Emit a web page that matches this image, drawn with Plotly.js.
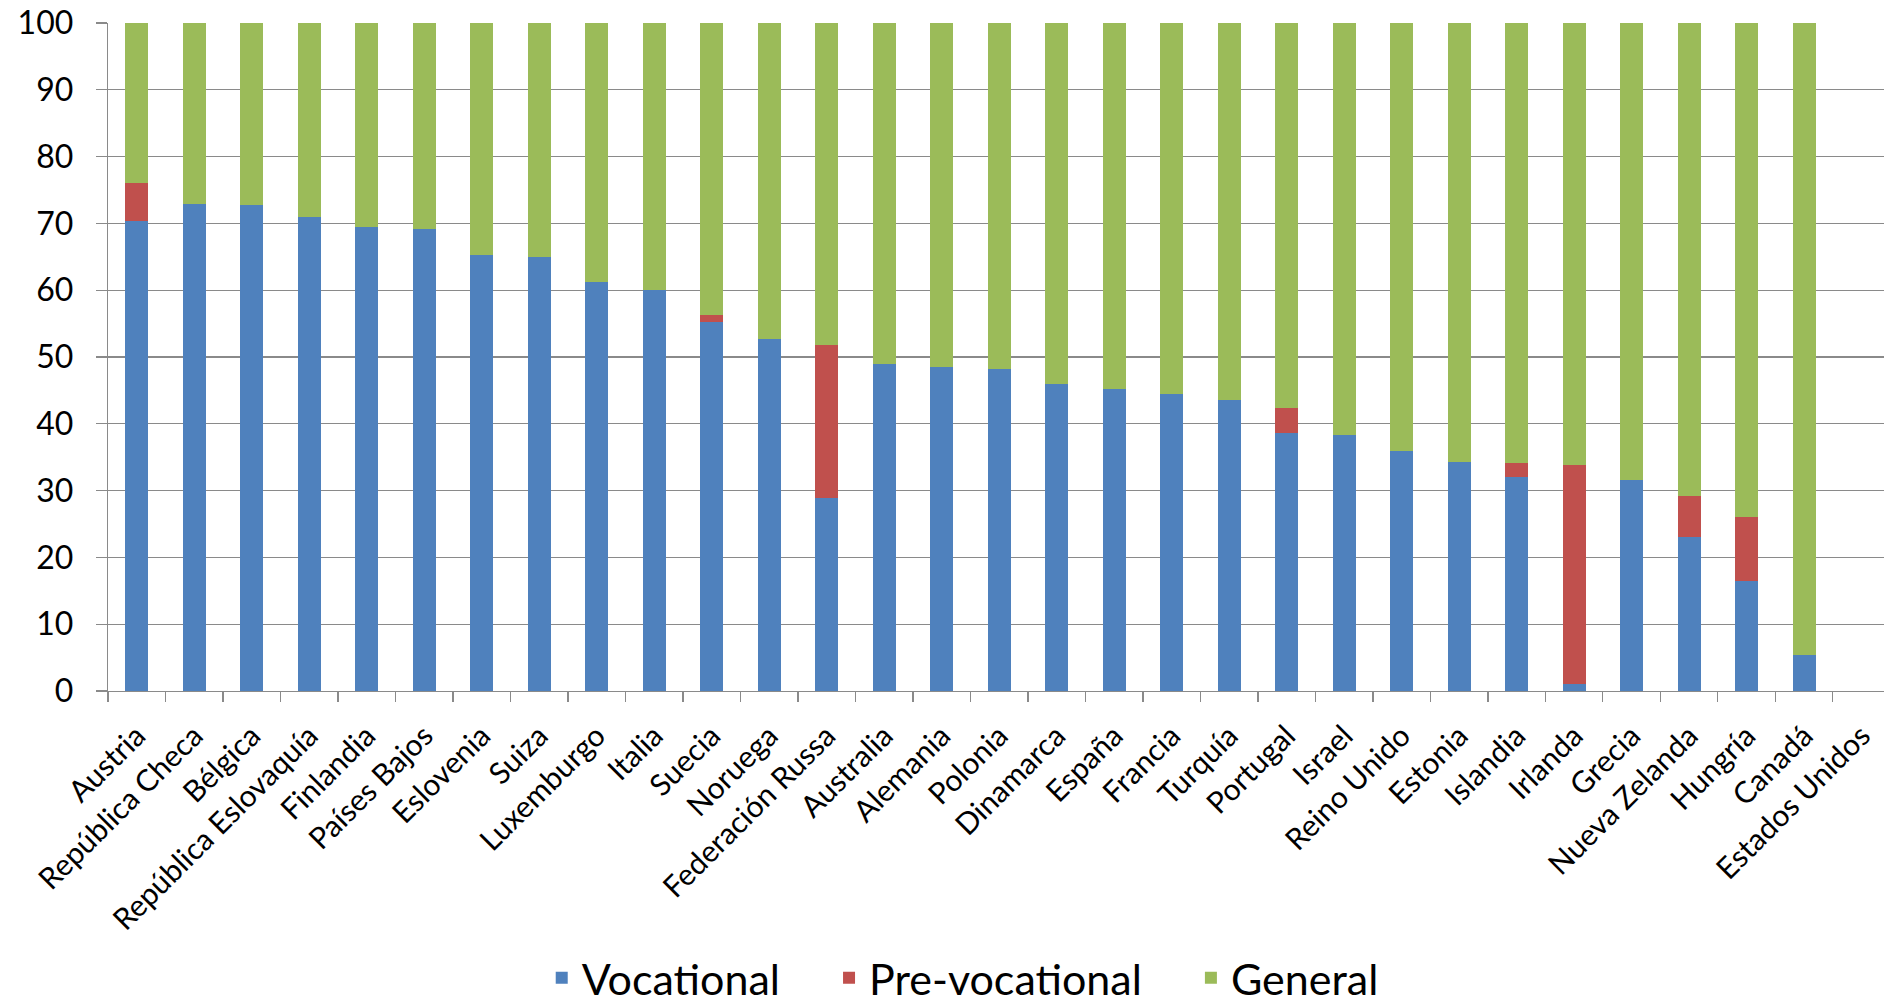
<!DOCTYPE html>
<html>
<head>
<meta charset="utf-8">
<script src="https://cdn.plot.ly/plotly-3.0.1.min.js"></script>
<style>
html, body { margin: 0; padding: 0; background: #ffffff; }
#chart { width: 1884px; height: 1007px; }
</style>
</head>
<body>
<div id="chart"></div>
<script>
const countries = ["Austria", "República Checa", "Bélgica", "República Eslovaquía", "Finlandia", "Países Bajos", "Eslovenia", "Suiza", "Luxemburgo", "Italia", "Suecia", "Noruega", "Federación Russa", "Australia", "Alemania", "Polonia", "Dinamarca", "España", "Francia", "Turquía", "Portugal", "Israel", "Reino Unido", "Estonia", "Islandia", "Irlanda", "Grecia", "Nueva Zelanda", "Hungría", "Canadá", "Estados Unidos"];

const vocational = [70.3, 72.9, 72.8, 70.9, 69.5, 69.1, 65.3, 65.0, 61.3, 60.0, 55.2, 52.7, 28.9, 48.9, 48.5, 48.2, 46.0, 45.2, 44.5, 43.5, 38.6, 38.3, 35.9, 34.3, 32.0, 1.1, 31.6, 23.0, 16.4, 5.4, null];

const preVocational = [5.7, 0, 0, 0, 0, 0, 0, 0, 0, 0, 1.1, 0, 22.9, 0, 0, 0, 0, 0, 0, 0, 3.7, 0, 0, 0, 2.1, 32.8, 0, 6.2, 9.7, 0, null];

const general = [24.0, 27.1, 27.2, 29.1, 30.5, 30.9, 34.7, 35.0, 38.7, 40.0, 43.7, 47.3, 48.2, 51.1, 51.5, 51.8, 54.0, 54.8, 55.5, 56.5, 57.7, 61.7, 64.1, 65.7, 65.9, 66.1, 68.4, 70.8, 73.9, 94.6, null];

const yTicks = [0, 10, 20, 30, 40, 50, 60, 70, 80, 90, 100];

const FONT = "Lato, 'Open Sans', sans-serif";
const GRID = "#8a8a8a";
const PAD = "\u00a0\u00a0\u00a0\u00a0";

const traces = [
  { type: "bar", name: "Vocational" + PAD, x: countries, y: vocational, marker: { color: "#4F81BD" }, hoverinfo: "x+y" },
  { type: "bar", name: "Pre-vocational" + PAD, x: countries, y: preVocational, marker: { color: "#C0504D" }, hoverinfo: "x+y" },
  { type: "bar", name: "General", x: countries, y: general, marker: { color: "#9BBB59" }, hoverinfo: "x+y" }
];

const layout = {
  width: 1884,
  height: 1007,
  margin: { l: 108, r: 0, t: 23, b: 316, autoexpand: false },
  paper_bgcolor: "#ffffff",
  plot_bgcolor: "#ffffff",
  barmode: "stack",
  bargap: 0.6,
  font: { family: FONT, color: "#000000" },
  xaxis: {
    type: "category",
    categoryorder: "array",
    categoryarray: countries,
    range: [-0.5, 30.39],
    automargin: false,
    showgrid: false,
    showline: true,
    linecolor: GRID,
    linewidth: 1.3,
    ticks: "outside",
    tickson: "boundaries",
    ticklen: 10,
    tickwidth: 1.3,
    tickcolor: GRID,
    tickangle: -45,
    ticklabelstandoff: 14,
    tickfont: { family: FONT, size: 30, color: "#000000" },
    fixedrange: true
  },
  yaxis: {
    range: [0, 100],
    tickvals: yTicks,
    ticktext: yTicks.map(String),
    automargin: false,
    showgrid: true,
    gridcolor: GRID,
    gridwidth: 1.3,
    zeroline: false,
    showline: true,
    linecolor: GRID,
    linewidth: 1.3,
    ticks: "outside",
    ticklen: 11,
    tickwidth: 1.3,
    tickcolor: GRID,
    ticklabelstandoff: 16,
    tickfont: { family: FONT, size: 32, color: "#000000" },
    fixedrange: true
  },
  showlegend: true,
  legend: {
    orientation: "h",
    xref: "container",
    yref: "container",
    x: 0.511,
    xanchor: "center",
    y: 0.029,
    yanchor: "middle",
    font: { family: FONT, size: 43, color: "#000000" },
    traceorder: "normal",
    bgcolor: "rgba(0,0,0,0)"
  }
};

Plotly.newPlot("chart", traces, layout, { displayModeBar: false, staticPlot: true });
</script>
</body>
</html>
